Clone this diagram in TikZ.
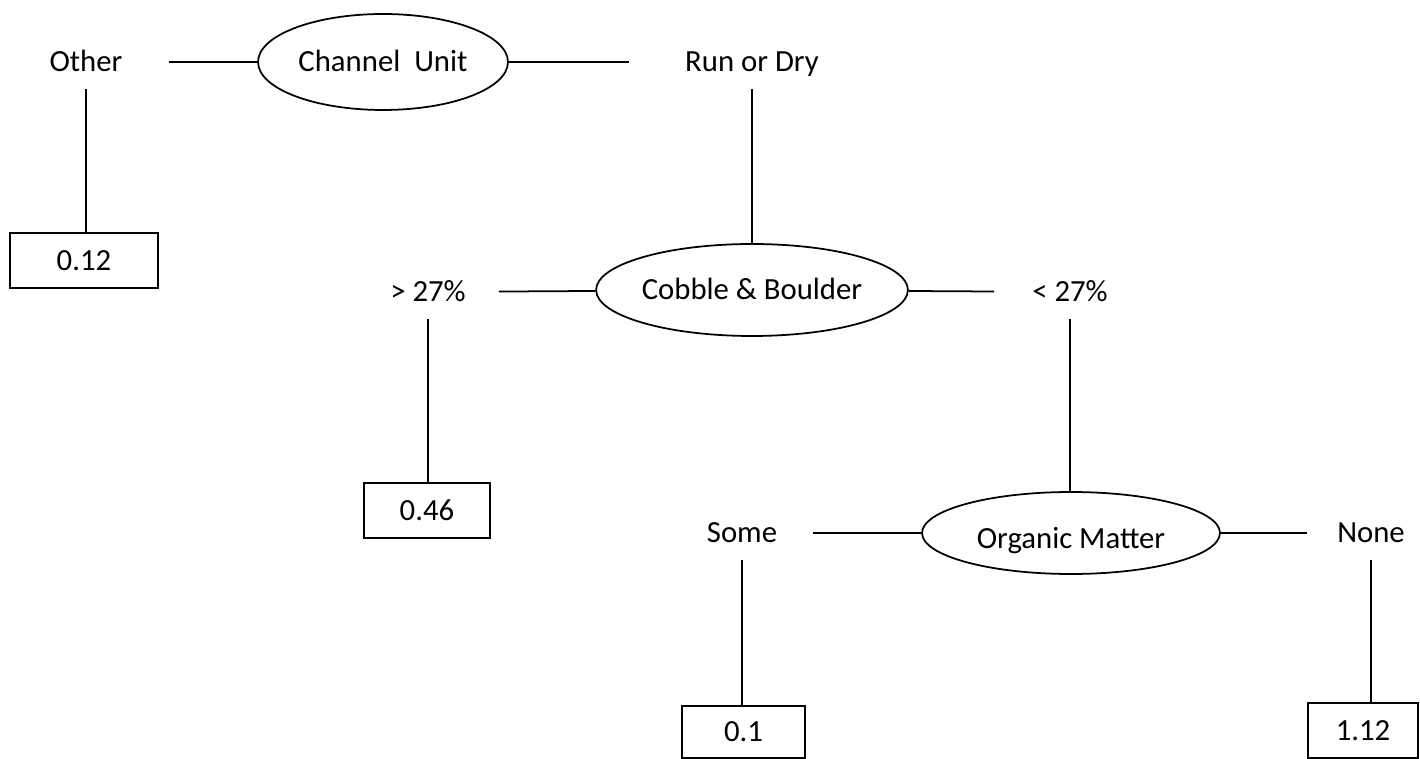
\documentclass[tikz,border=0pt]{standalone}
\usepackage{fontspec}
\setmainfont{Carlito}
\usetikzlibrary{shapes.geometric}

\begin{document}
\begin{tikzpicture}[x=0.02cm,y=-0.02cm,line width=1pt,
every node/.style={font=\fontsize{17.5}{21}\selectfont,text height=15pt,text depth=4pt},
split/.style={ellipse,draw=black,inner sep=0pt},
leaf/.style={rectangle,draw=black,inner sep=0pt,minimum height=1.1cm},
branch/.style={rectangle,draw=none,inner sep=0pt,minimum height=1.04cm}]

\useasboundingbox (0,0) rectangle (1420,759);

% Channel Unit
\node[split,minimum width=5cm,minimum height=1.92cm] (channel) at (383,62) {Channel\ \ Unit};
\node[branch,minimum width=3.28cm] (other) at (86,62) {Other};
\node[branch,minimum width=4.88cm] (run) at (752,62) {Run or Dry};
\node[leaf,minimum width=2.96cm] (v012) at (84,260.5) {0.12};

% Cobble & Boulder
\node[split,minimum width=6cm,minimum height=1.84cm] (cobble) at (752,290) {Cobble \& Boulder};
\node[branch,minimum width=2.8cm] (more) at (428,292) {> 27\%};
\node[branch,minimum width=3cm] (less) at (1070,292) {< 27\%};
\node[leaf,minimum width=2.52cm] (v046) at (427,510.5) {0.46};

% Organic Matter
\node[split,minimum width=5.96cm,minimum height=1.64cm] (organic) at (1071,533) {\raisebox{-0.2em}{Organic Matter}};
\node[branch,minimum width=2.8cm] (some) at (742,533) {Some};
\node[branch,minimum width=2.52cm] (none) at (1371,533) {None};
\node[leaf,minimum width=2.46cm,minimum height=1.04cm] (v01) at (743.5,732) {0.1};
\node[leaf,minimum width=2.2cm] (v112) at (1363,730.5) {1.12};

% Lines
\draw (other) -- (channel);
\draw (channel) -- (run);
\draw (other.south) -- (other.south |- v012.north);
\draw (run.south) -- (run.south |- cobble.north);
\draw (more) -- (cobble);
\draw (cobble) -- (less);
\draw (more.south) -- (more.south |- v046.north);
\draw (less.south) -- (less.south |- organic.north);
\draw (some) -- (organic);
\draw (organic) -- (none);
\draw (some.south) -- (some.south |- v01.north);
\draw (none.south) -- (none.south |- v112.north);

\end{tikzpicture}
\end{document}
